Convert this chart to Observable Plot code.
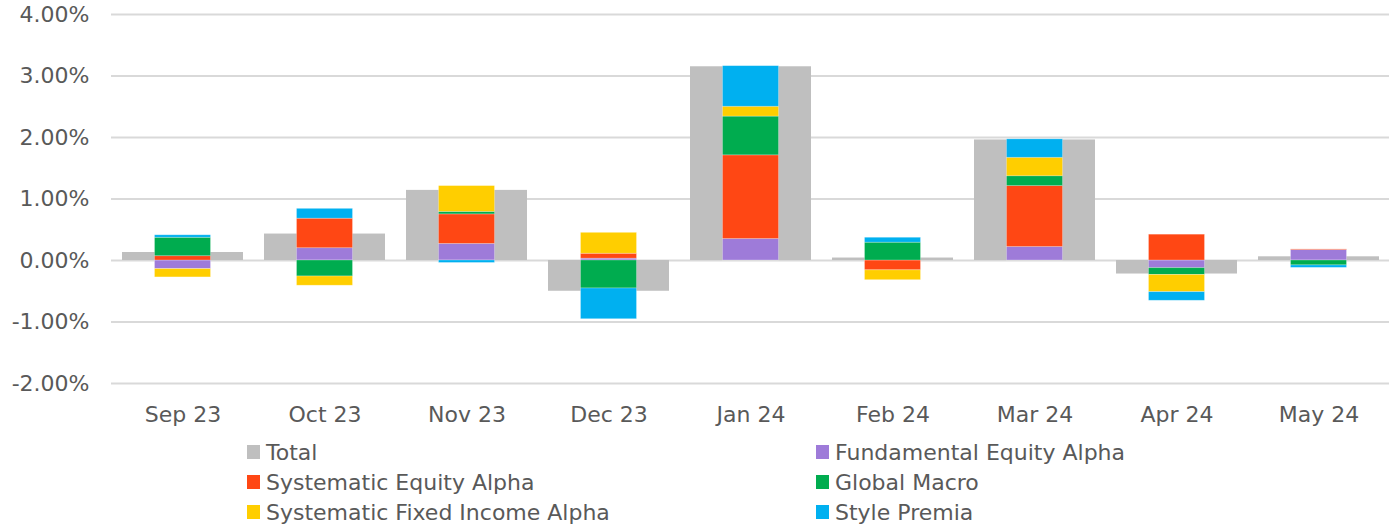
<!DOCTYPE html>
<html>
<head>
<meta charset="utf-8">
<script src="https://cdn.jsdelivr.net/npm/d3@7"></script>
<script src="https://cdn.jsdelivr.net/npm/@observablehq/plot@0.6"></script>
<style>
  body { margin: 0; background: #fff; }
  #wrap { position: relative; width: 1391px; height: 526px; font-family: "DejaVu Sans", sans-serif; color: #595959; }
  #legend { position: absolute; left: 0; top: 437px; width: 1391px; height: 90px; }
  .item { position: absolute; display: flex; align-items: center; height: 30px; font-size: 22px; color: #595959; white-space: nowrap; }
  .sw { width: 13px; height: 14px; margin-right: 6px; }
</style>
</head>
<body>
<div id="wrap"><div id="chart"></div><div id="legend"></div></div>
<script>
const months = ["Sep 23", "Oct 23", "Nov 23", "Dec 23", "Jan 24", "Feb 24", "Mar 24", "Apr 24", "May 24"];
const total = [0.13, 0.43, 1.14, -0.50, 3.15, 0.04, 1.96, -0.22, 0.06];
const fundamentalEquity = [-0.14, 0.20, 0.27, 0.03, 0.35, 0.00, 0.22, -0.125, 0.17];
const systematicEquity = [0.07, 0.48, 0.48, 0.08, 1.36, -0.16, 0.99, 0.42, 0.01];
const globalMacro = [0.30, -0.26, 0.04, -0.455, 0.63, 0.29, 0.16, -0.11, -0.08];
const systematicFixedIncome = [-0.135, -0.15, 0.42, 0.34, 0.16, -0.16, 0.30, -0.28, 0.00];
const stylePremia = [0.04, 0.16, -0.04, -0.50, 0.66, 0.08, 0.30, -0.14, -0.04];

const seriesNames = ["Fundamental Equity Alpha", "Systematic Equity Alpha", "Global Macro", "Systematic Fixed Income Alpha", "Style Premia"];
const seriesValues = [fundamentalEquity, systematicEquity, globalMacro, systematicFixedIncome, stylePremia];
const seriesColors = ["#9e7bd9", "#ff4714", "#00ac4f", "#ffce00", "#00b0f0"];
const totalColor = "#bfbfbf";
const yTicks = [-2, -1, 0, 1, 2, 3, 4];

const totals = months.map((m, i) => ({month: m, value: total[i]}));
const parts = [];
seriesNames.forEach((s, j) => months.forEach((m, i) => parts.push({month: m, series: s, value: seriesValues[j][i]})));

const chart = Plot.plot({
  width: 1391,
  height: 436,
  marginLeft: 111,
  marginRight: 2,
  marginTop: 14,
  marginBottom: 53,
  style: {fontFamily: "'DejaVu Sans', sans-serif", fontSize: "22px", color: "#595959", background: "#fff"},
  x: {domain: months, paddingInner: 0.15, paddingOuter: 0.075, label: null, tickSize: 0, tickPadding: 23},
  y: {domain: [-2, 4], ticks: yTicks, label: null, tickSize: 0, tickPadding: 22, tickFormat: d => d.toFixed(2) + "%"},
  color: {domain: seriesNames, range: seriesColors},
  marks: [
    Plot.gridY(yTicks, {stroke: "#d9d9d9", strokeWidth: 2, strokeOpacity: 1}),
    Plot.barY(totals, {x: "month", y: "value", fill: totalColor}),
    Plot.barY(parts, {x: "month", y: "value", z: "series", fill: "series", insetLeft: 32.5, insetRight: 32.5, stroke: "#fff", strokeOpacity: 0.35, strokeWidth: 0.75}),
    Plot.axisX({tickSize: 0, tickPadding: 23, fontSize: 22, label: null}),
    Plot.axisY({ticks: yTicks, tickSize: 0, tickPadding: 22, fontSize: 22, label: null, tickFormat: d => d.toFixed(2) + "%"})
  ]
});
document.getElementById("chart").appendChild(chart);

const legendItems = [
  {name: "Total", color: totalColor},
  {name: seriesNames[0], color: seriesColors[0]},
  {name: seriesNames[1], color: seriesColors[1]},
  {name: seriesNames[2], color: seriesColors[2]},
  {name: seriesNames[3], color: seriesColors[3]},
  {name: seriesNames[4], color: seriesColors[4]}
];
const legend = document.getElementById("legend");
legendItems.forEach((it, k) => {
  const el = document.createElement("div");
  el.className = "item";
  el.style.left = (k % 2 === 0 ? 247 : 816) + "px";
  el.style.top = (Math.floor(k / 2) * 30) + "px";
  const sw = document.createElement("span");
  sw.className = "sw";
  sw.style.background = it.color;
  const tx = document.createElement("span");
  tx.textContent = it.name;
  el.appendChild(sw); el.appendChild(tx);
  legend.appendChild(el);
});
</script>
</body>
</html>
